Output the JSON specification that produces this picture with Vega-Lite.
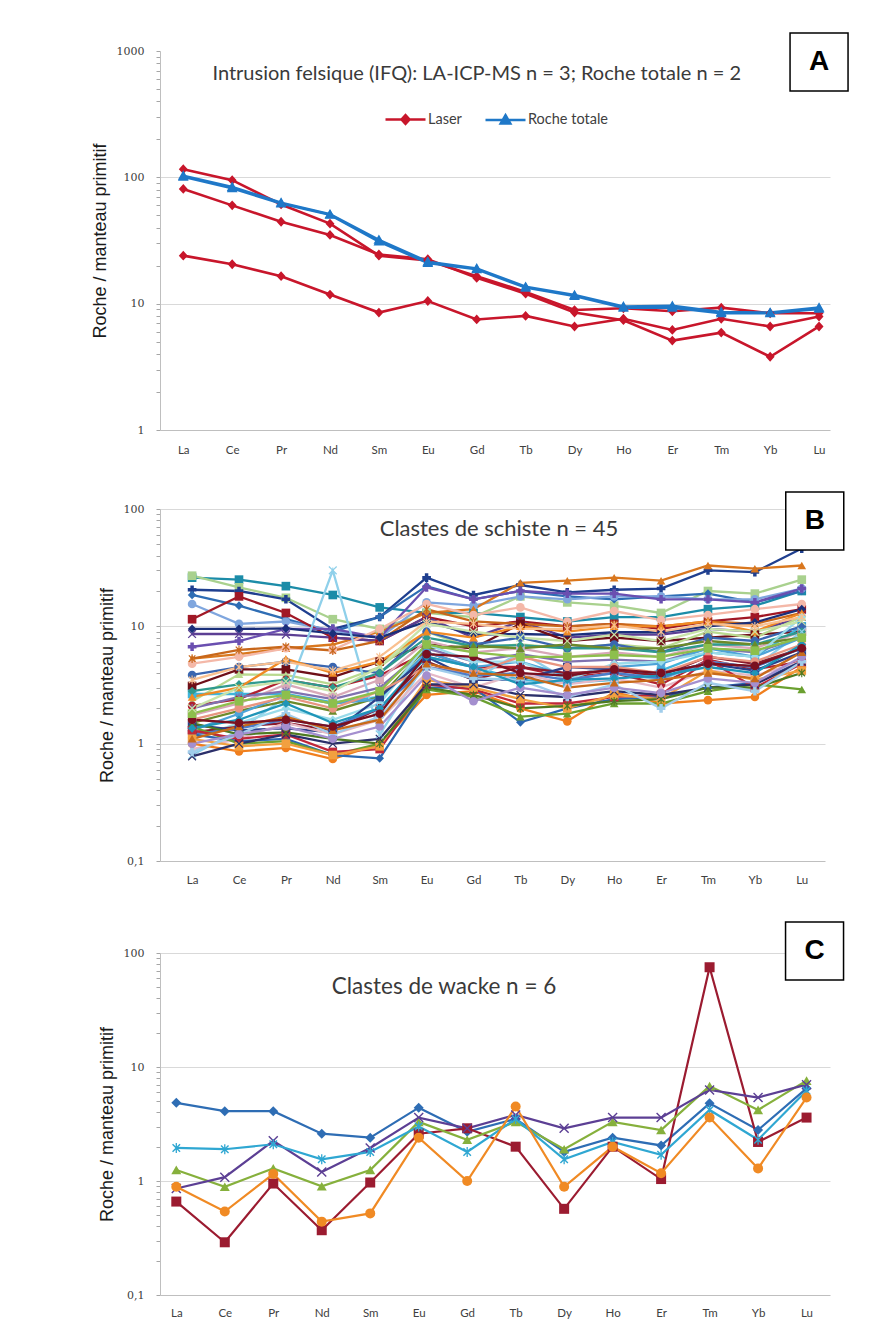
{
  "$schema": "https://vega.github.io/schema/vega-lite/v6.json",
  "background": "white",
  "padding": {"left": 91, "top": 30, "right": 10, "bottom": 10},
  "config": {"view": {"stroke": null}, "font": "Lato"},
  "datasets": {
    "a": [
      {"s": "L1", "t": "Laser", "La": 116, "Ce": 95, "Pr": 61, "Nd": 43, "Sm": 24, "Eu": 22, "Gd": 16.5, "Tb": 12.4, "Dy": 8.9, "Ho": 9.2, "Er": 8.7, "Tm": 9.3, "Yb": 8.4, "Lu": 8.4},
      {"s": "L2", "t": "Laser", "La": 81, "Ce": 60, "Pr": 44.5, "Nd": 35, "Sm": 24.5, "Eu": 22.5, "Gd": 16, "Tb": 12, "Dy": 8.5, "Ho": 7.4, "Er": 5.1, "Tm": 5.9, "Yb": 3.8, "Lu": 6.6},
      {"s": "L3", "t": "Laser", "La": 24, "Ce": 20.5, "Pr": 16.5, "Nd": 11.8, "Sm": 8.5, "Eu": 10.5, "Gd": 7.5, "Tb": 8, "Dy": 6.6, "Ho": 7.6, "Er": 6.2, "Tm": 7.6, "Yb": 6.6, "Lu": 7.9},
      {"s": "R1", "t": "Roche totale", "La": 101, "Ce": 82, "Pr": 62, "Nd": 50.5, "Sm": 31, "Eu": 21, "Gd": 18.7, "Tb": 13.4, "Dy": 11.5, "Ho": 9.3, "Er": 9.3, "Tm": 8.4, "Yb": 8.4, "Lu": 9.1},
      {"s": "R2", "t": "Roche totale", "La": 103, "Ce": 84, "Pr": 63, "Nd": 51, "Sm": 32, "Eu": 21.5, "Gd": 19, "Tb": 13.6, "Dy": 11.7, "Ho": 9.5, "Er": 9.6, "Tm": 8.6, "Yb": 8.5, "Lu": 9.3}
    ],
    "b": [
      {"s": "s01", "La": 26, "Ce": 25, "Pr": 22, "Nd": 18.5, "Sm": 14.5, "Eu": 13, "Gd": 13, "Tb": 12, "Dy": 11, "Ho": 12, "Er": 12, "Tm": 14, "Yb": 15, "Lu": 20},
      {"s": "s02", "La": 27, "Ce": 21.5, "Pr": 17.5, "Nd": 11.5, "Sm": 9.5, "Eu": 13, "Gd": 12, "Tb": 18, "Dy": 16, "Ho": 15, "Er": 13, "Tm": 20, "Yb": 19, "Lu": 25},
      {"s": "s03", "La": 20.5, "Ce": 20, "Pr": 17, "Nd": 9.5, "Sm": 12, "Eu": 26, "Gd": 18.5, "Tb": 22.5, "Dy": 19.5, "Ho": 20.5, "Er": 21, "Tm": 30, "Yb": 29, "Lu": 46},
      {"s": "s04", "La": 18.5, "Ce": 15, "Pr": 11.5, "Nd": 9, "Sm": 12, "Eu": 22, "Gd": 17, "Tb": 20, "Dy": 18, "Ho": 17, "Er": 18, "Tm": 19, "Yb": 16, "Lu": 20},
      {"s": "s05", "La": 15.5, "Ce": 10.5, "Pr": 11, "Nd": 9.2, "Sm": 8, "Eu": 16, "Gd": 15, "Tb": 18, "Dy": 17, "Ho": 18, "Er": 18, "Tm": 17, "Yb": 17, "Lu": 21},
      {"s": "s06", "La": 11.5, "Ce": 18, "Pr": 13, "Nd": 8, "Sm": 7.5, "Eu": 12, "Gd": 10, "Tb": 11, "Dy": 10, "Ho": 10.5, "Er": 9.5, "Tm": 11, "Yb": 12, "Lu": 14},
      {"s": "s07", "La": 5.3, "Ce": 5.8, "Pr": 6.5, "Nd": 7, "Sm": 9, "Eu": 13, "Gd": 14, "Tb": 23.5, "Dy": 24.5, "Ho": 26, "Er": 24.5, "Tm": 33, "Yb": 31, "Lu": 33},
      {"s": "s08", "La": 8.6, "Ce": 8.6, "Pr": 8.5, "Nd": 8, "Sm": 7.5, "Eu": 12, "Gd": 8, "Tb": 11, "Dy": 8, "Ho": 8.5, "Er": 8.5, "Tm": 9.5, "Yb": 9, "Lu": 12},
      {"s": "s09", "La": 6.7, "Ce": 7.5, "Pr": 9.5, "Nd": 9.5, "Sm": 8, "Eu": 21.5, "Gd": 17, "Tb": 20, "Dy": 19, "Ho": 19, "Er": 17, "Tm": 17, "Yb": 16, "Lu": 21},
      {"s": "s10", "La": 4.8, "Ce": 5.5, "Pr": 6.5, "Nd": 6.3, "Sm": 9.5, "Eu": 15.5, "Gd": 12.5, "Tb": 14.5, "Dy": 11, "Ho": 13.5, "Er": 11.3, "Tm": 12.5, "Yb": 14, "Lu": 15.5},
      {"s": "s11", "La": 5.3, "Ce": 6.3, "Pr": 6.7, "Nd": 6.2, "Sm": 7.5, "Eu": 14, "Gd": 11, "Tb": 10.5, "Dy": 10, "Ho": 10.5, "Er": 10, "Tm": 11, "Yb": 10.5, "Lu": 13},
      {"s": "s12", "La": 9.5, "Ce": 9.5, "Pr": 9.6, "Nd": 8.7, "Sm": 8, "Eu": 11, "Gd": 8.5, "Tb": 8.6, "Dy": 8.4, "Ho": 8.9, "Er": 8.9, "Tm": 10, "Yb": 10.8, "Lu": 14},
      {"s": "s13", "La": 3.1, "Ce": 4.3, "Pr": 4.3, "Nd": 3.7, "Sm": 5, "Eu": 7, "Gd": 6.5, "Tb": 10.5, "Dy": 7.5, "Ho": 8, "Er": 7.5, "Tm": 8, "Yb": 8.5, "Lu": 9},
      {"s": "s14", "La": 2.3, "Ce": 3.9, "Pr": 3.85, "Nd": 3.2, "Sm": 4.5, "Eu": 9, "Gd": 6.5, "Tb": 7, "Dy": 6.5, "Ho": 7, "Er": 6.5, "Tm": 9, "Yb": 8, "Lu": 12},
      {"s": "s15", "La": 2.65, "Ce": 2.65, "Pr": 2.65, "Nd": 2.25, "Sm": 2.5, "Eu": 5.5, "Gd": 4.5, "Tb": 3.5, "Dy": 3.3, "Ho": 3.5, "Er": 4.2, "Tm": 6, "Yb": 5.5, "Lu": 10},
      {"s": "s16", "La": 2.1, "Ce": 2.4, "Pr": 3.5, "Nd": 3, "Sm": 3.8, "Eu": 6, "Gd": 4.5, "Tb": 4.5, "Dy": 3.7, "Ho": 4, "Er": 3.2, "Tm": 5.2, "Yb": 4.3, "Lu": 5},
      {"s": "s17", "La": 1.75, "Ce": 2.2, "Pr": 3.2, "Nd": 2.5, "Sm": 3.5, "Eu": 7.5, "Gd": 6, "Tb": 6.5, "Dy": 5.5, "Ho": 6, "Er": 5.5, "Tm": 7, "Yb": 6.5, "Lu": 9},
      {"s": "s18", "La": 3.85, "Ce": 4.5, "Pr": 5, "Nd": 4.5, "Sm": 4, "Eu": 9, "Gd": 7, "Tb": 8, "Dy": 6.5, "Ho": 7, "Er": 6, "Tm": 8, "Yb": 7.5, "Lu": 10},
      {"s": "s19", "La": 2.8, "Ce": 3.2, "Pr": 3.5, "Nd": 3, "Sm": 4, "Eu": 8, "Gd": 6.8, "Tb": 6.9, "Dy": 6.5, "Ho": 6.5, "Er": 6, "Tm": 7, "Yb": 7, "Lu": 9},
      {"s": "s20", "La": 0.8, "Ce": 1.3, "Pr": 2.5, "Nd": 30, "Sm": 1.2, "Eu": 5, "Gd": 3.5, "Tb": 6, "Dy": 3.5, "Ho": 4, "Er": 3.5, "Tm": 5, "Yb": 4.5, "Lu": 9},
      {"s": "s21", "La": 2.5, "Ce": 3, "Pr": 5.3, "Nd": 4, "Sm": 5, "Eu": 9, "Gd": 8, "Tb": 10, "Dy": 9, "Ho": 10, "Er": 10, "Tm": 11, "Yb": 9, "Lu": 13},
      {"s": "s22", "La": 2, "Ce": 2.5, "Pr": 2.8, "Nd": 2.4, "Sm": 3, "Eu": 6.5, "Gd": 5, "Tb": 5.8, "Dy": 5, "Ho": 5.2, "Er": 5, "Tm": 6.5, "Yb": 6, "Lu": 8},
      {"s": "s23", "La": 1.5, "Ce": 1.9, "Pr": 2.3, "Nd": 1.9, "Sm": 2.5, "Eu": 6.5, "Gd": 6.8, "Tb": 6.5, "Dy": 7, "Ho": 6.5, "Er": 6.5, "Tm": 7.5, "Yb": 7, "Lu": 8},
      {"s": "s24", "La": 1.3, "Ce": 1.8, "Pr": 2.6, "Nd": 2.2, "Sm": 2.4, "Eu": 6, "Gd": 4.5, "Tb": 5, "Dy": 3.8, "Ho": 4.5, "Er": 4.8, "Tm": 6.5, "Yb": 5.5, "Lu": 8},
      {"s": "s25", "La": 1.1, "Ce": 1.5, "Pr": 2, "Nd": 1.6, "Sm": 2.2, "Eu": 7, "Gd": 5, "Tb": 5, "Dy": 3.5, "Ho": 4.8, "Er": 5, "Tm": 6, "Yb": 5.5, "Lu": 12},
      {"s": "s26", "La": 1.25, "Ce": 1.4, "Pr": 1.5, "Nd": 1.3, "Sm": 2, "Eu": 5, "Gd": 3.5, "Tb": 4.5, "Dy": 4, "Ho": 4.2, "Er": 3.8, "Tm": 5.5, "Yb": 4.8, "Lu": 6.5},
      {"s": "s27", "La": 1.45, "Ce": 1.3, "Pr": 1.35, "Nd": 1.25, "Sm": 2.5, "Eu": 5.5, "Gd": 3.5, "Tb": 3.5, "Dy": 4.5, "Ho": 4.3, "Er": 4, "Tm": 4.8, "Yb": 4.2, "Lu": 6},
      {"s": "s28", "La": 1.6, "Ce": 2, "Pr": 2.5, "Nd": 2, "Sm": 2.8, "Eu": 4.5, "Gd": 4, "Tb": 5.5, "Dy": 4.5, "Ho": 4.5, "Er": 4, "Tm": 5.5, "Yb": 5, "Lu": 7},
      {"s": "s29", "La": 1.2, "Ce": 1.35, "Pr": 1.6, "Nd": 1.4, "Sm": 2, "Eu": 4.5, "Gd": 3.8, "Tb": 4, "Dy": 3.5, "Ho": 4, "Er": 3.6, "Tm": 5, "Yb": 4.5, "Lu": 6.5},
      {"s": "s30", "La": 0.9, "Ce": 1.1, "Pr": 1.5, "Nd": 1.2, "Sm": 1.6, "Eu": 4, "Gd": 3, "Tb": 4, "Dy": 3.2, "Ho": 3.6, "Er": 3, "Tm": 4.2, "Yb": 3.8, "Lu": 5},
      {"s": "s31", "La": 1.0, "Ce": 0.86, "Pr": 0.92, "Nd": 0.74, "Sm": 1.0, "Eu": 2.6, "Gd": 2.8, "Tb": 2.0, "Dy": 1.55, "Ho": 2.75, "Er": 2.2, "Tm": 2.35, "Yb": 2.5, "Lu": 4.5},
      {"s": "s32", "La": 1.2, "Ce": 1.05, "Pr": 1.1, "Nd": 0.8, "Sm": 0.75, "Eu": 3, "Gd": 3, "Tb": 1.52, "Dy": 2, "Ho": 2.4, "Er": 2.5, "Tm": 3, "Yb": 3.3, "Lu": 5},
      {"s": "s33", "La": 1.4, "Ce": 1.0, "Pr": 1.05, "Nd": 0.8, "Sm": 1.0, "Eu": 2.9, "Gd": 2.5, "Tb": 1.7, "Dy": 1.8, "Ho": 2.2, "Er": 2.2, "Tm": 2.8, "Yb": 3.2, "Lu": 2.9},
      {"s": "s34", "La": 1.3, "Ce": 1.1, "Pr": 1.2, "Nd": 0.85, "Sm": 0.9, "Eu": 3.2, "Gd": 2.9, "Tb": 2.2, "Dy": 2.2, "Ho": 2.5, "Er": 2.6, "Tm": 5.2, "Yb": 3, "Lu": 4.8},
      {"s": "s35", "La": 1.1, "Ce": 0.95, "Pr": 1.0, "Nd": 0.8, "Sm": 0.95, "Eu": 3.5, "Gd": 3, "Tb": 2.4, "Dy": 2.0, "Ho": 2.6, "Er": 2.4, "Tm": 4.2, "Yb": 3.5, "Lu": 4.2},
      {"s": "s36", "La": 0.78, "Ce": 1.0, "Pr": 1.2, "Nd": 1.0, "Sm": 1.1, "Eu": 3.2, "Gd": 3.2, "Tb": 2.6, "Dy": 2.5, "Ho": 2.8, "Er": 2.6, "Tm": 3, "Yb": 3.2, "Lu": 5},
      {"s": "s37", "La": 1.5, "Ce": 1.2, "Pr": 1.25, "Nd": 1.1, "Sm": 1.0, "Eu": 3.0, "Gd": 2.6, "Tb": 2.0, "Dy": 2.1, "Ho": 2.3, "Er": 2.4, "Tm": 3.0, "Yb": 3.0, "Lu": 4.0},
      {"s": "s38", "La": 0.85, "Ce": 1.2, "Pr": 1.8, "Nd": 1.2, "Sm": 1.7, "Eu": 4.5, "Gd": 3.6, "Tb": 3.5, "Dy": 2.5, "Ho": 3.2, "Er": 2.0, "Tm": 3.3, "Yb": 2.8, "Lu": 5},
      {"s": "s39", "La": 1.0, "Ce": 1.2, "Pr": 1.4, "Nd": 1.1, "Sm": 1.4, "Eu": 3.8, "Gd": 2.3, "Tb": 3, "Dy": 2.6, "Ho": 3, "Er": 2.7, "Tm": 3.6, "Yb": 3.3, "Lu": 5.5},
      {"s": "s40", "La": 1.35, "Ce": 1.6, "Pr": 2.2, "Nd": 1.5, "Sm": 2.0, "Eu": 5.5, "Gd": 4.5, "Tb": 3.2, "Dy": 3.5, "Ho": 3.6, "Er": 3.8, "Tm": 4.5, "Yb": 4.0, "Lu": 7},
      {"s": "s41", "La": 1.1, "Ce": 1.4, "Pr": 1.7, "Nd": 1.3, "Sm": 1.6, "Eu": 4.8, "Gd": 4.0, "Tb": 3.8, "Dy": 3.0, "Ho": 3.3, "Er": 3.5, "Tm": 4.0, "Yb": 3.6, "Lu": 6},
      {"s": "s42", "La": 1.6, "Ce": 1.5, "Pr": 1.6, "Nd": 1.4, "Sm": 1.8, "Eu": 5.8, "Gd": 5.5, "Tb": 4.0, "Dy": 3.8, "Ho": 4.3, "Er": 4.0, "Tm": 4.8, "Yb": 4.6, "Lu": 6.5},
      {"s": "s43", "La": 1.8, "Ce": 2.3, "Pr": 2.6, "Nd": 2.2, "Sm": 2.8, "Eu": 7, "Gd": 6, "Tb": 5.5, "Dy": 5.5, "Ho": 5.7, "Er": 5.5, "Tm": 6.5, "Yb": 6.2, "Lu": 8},
      {"s": "s44", "La": 2.0, "Ce": 3.0, "Pr": 3.4, "Nd": 2.8, "Sm": 4.5, "Eu": 10.5, "Gd": 9, "Tb": 8, "Dy": 7.5, "Ho": 8.5, "Er": 7.5, "Tm": 9.5, "Yb": 9, "Lu": 11},
      {"s": "s45", "La": 3.5, "Ce": 4.5, "Pr": 5.0, "Nd": 4.2, "Sm": 5.5, "Eu": 11, "Gd": 10.5, "Tb": 9.5, "Dy": 9.5, "Ho": 10.2, "Er": 9, "Tm": 10.5, "Yb": 10, "Lu": 12}
    ],
    "c": [
      {"s": "c1", "La": 4.85, "Ce": 4.1, "Pr": 4.1, "Nd": 2.6, "Sm": 2.4, "Eu": 4.4, "Gd": 2.7, "Tb": 3.5, "Dy": 1.8, "Ho": 2.4, "Er": 2.05, "Tm": 4.8, "Yb": 2.8, "Lu": 6.5},
      {"s": "c2", "La": 0.66, "Ce": 0.29, "Pr": 0.95, "Nd": 0.37, "Sm": 0.97, "Eu": 2.6, "Gd": 2.9, "Tb": 2.0, "Dy": 0.57, "Ho": 2.0, "Er": 1.04, "Tm": 75, "Yb": 2.2, "Lu": 3.6},
      {"s": "c3", "La": 1.25, "Ce": 0.89, "Pr": 1.29, "Nd": 0.9, "Sm": 1.25, "Eu": 3.3, "Gd": 2.3, "Tb": 3.3, "Dy": 1.9, "Ho": 3.3, "Er": 2.8, "Tm": 6.8, "Yb": 4.2, "Lu": 7.6},
      {"s": "c4", "La": 0.86, "Ce": 1.08, "Pr": 2.25, "Nd": 1.2, "Sm": 1.95, "Eu": 3.6, "Gd": 2.9, "Tb": 3.8, "Dy": 2.9, "Ho": 3.6, "Er": 3.6, "Tm": 6.3, "Yb": 5.4, "Lu": 7.0},
      {"s": "c5", "La": 1.95, "Ce": 1.9, "Pr": 2.1, "Nd": 1.55, "Sm": 1.8, "Eu": 3.0, "Gd": 1.8, "Tb": 3.5, "Dy": 1.55, "Ho": 2.2, "Er": 1.7, "Tm": 4.2, "Yb": 2.3, "Lu": 6.2},
      {"s": "c6", "La": 0.89, "Ce": 0.54, "Pr": 1.15, "Nd": 0.44, "Sm": 0.52, "Eu": 2.4, "Gd": 1.0, "Tb": 4.5, "Dy": 0.89, "Ho": 2.0, "Er": 1.17, "Tm": 3.6, "Yb": 1.29, "Lu": 5.4}
    ]
  },
  "spacing": 33,
  "resolve": {"scale": {"x": "independent", "y": "independent", "color": "independent", "shape": "independent"}},
  "vconcat": [
    {
      "width": 670,
      "height": 379,
      "layer": [
        {
          "data": {"name": "a"},
          "transform": [{"fold": ["La", "Ce", "Pr", "Nd", "Sm", "Eu", "Gd", "Tb", "Dy", "Ho", "Er", "Tm", "Yb", "Lu"], "as": ["el", "v"]}],
          "mark": {"type": "line", "strokeWidth": 2.6},
          "encoding": {
            "x": {"field": "el", "type": "ordinal", "scale": {"type": "point", "domain": ["La", "Ce", "Pr", "Nd", "Sm", "Eu", "Gd", "Tb", "Dy", "Ho", "Er", "Tm", "Yb", "Lu"], "padding": 0.35, "align": 0.68},
              "axis": {"title": null, "labelAngle": 0, "labelFont": "Lato", "labelFontSize": 11.5, "labelColor": "#404040", "labelPadding": 14, "ticks": false, "domainColor": "#BFBFBF", "grid": false}},
            "y": {"field": "v", "type": "quantitative", "scale": {"type": "log", "domain": [1, 1000], "nice": false},
              "axis": {"title": "Roche / manteau primitif", "titleFont": "Liberation Sans", "titleFontSize": 18, "titleFontWeight": "normal", "titleColor": "#1a1a1a", "titlePadding": 7,
                "values": [1, 2, 3, 4, 5, 6, 7, 8, 9, 10, 20, 30, 40, 50, 60, 70, 80, 90, 100, 200, 300, 400, 500, 600, 700, 800, 900, 1000],
                "labelExpr": "indexof([1,10,100,1000], datum.value) >= 0 ? '' + datum.value : ''",
                "labelFont": "DejaVu Serif", "labelFontSize": 11, "labelColor": "#404040", "labelPadding": 12, "labelOverlap": false,
                "tickSize": 4, "tickColor": "#A6A6A6", "domainColor": "#BFBFBF",
                "grid": true, "gridColor": "#D9D9D9", "gridOpacity": {"condition": {"test": "indexof([10,100], datum.value) >= 0", "value": 1}, "value": 0}}},
            "color": {"field": "t", "type": "nominal", "scale": {"domain": ["Laser", "Roche totale"], "range": ["#C8162B", "#1F78C8"]},
              "legend": {"orient": "none", "legendX": 224, "legendY": 47, "direction": "horizontal", "title": null, "symbolSize": 1600, "symbolStrokeWidth": 2.5, "labelFont": "Lato", "labelFontSize": 14.5, "labelColor": "#404040", "labelOffset": 1, "columnPadding": 18}},
            "detail": {"field": "s", "type": "nominal"}
          }
        },
        {
          "data": {"name": "a"},
          "transform": [{"fold": ["La", "Ce", "Pr", "Nd", "Sm", "Eu", "Gd", "Tb", "Dy", "Ho", "Er", "Tm", "Yb", "Lu"], "as": ["el", "v"]}],
          "mark": {"type": "point", "filled": true, "opacity": 1, "size": 2000},
          "encoding": {
            "x": {"field": "el", "type": "ordinal"},
            "y": {"field": "v", "type": "quantitative"},
            "color": {"field": "t", "type": "nominal"},
            "shape": {"field": "t", "type": "nominal", "scale": {"domain": ["Laser", "Roche totale"], "range": ["M-1,0L1,0M0,-0.22L0.2,0L0,0.22L-0.2,0Z", "M-1,0L1,0M0,-0.24L0.24,0.18L-0.24,0.18Z"]},
              "legend": {"orient": "none", "legendX": 224, "legendY": 47, "direction": "horizontal", "title": null, "symbolSize": 1600, "symbolStrokeWidth": 2.5, "labelFont": "Lato", "labelFontSize": 14.5, "labelColor": "#404040", "labelOffset": 1, "columnPadding": 18}},
            "detail": {"field": "s", "type": "nominal"}
          }
        },
        {
          "data": {"values": [{}]},
          "mark": {"type": "point", "shape": "square", "size": 3364, "filled": true, "fill": "white", "stroke": "black", "strokeWidth": 1.5, "opacity": 1},
          "encoding": {"x": {"datum": "Lu", "type": "ordinal"}, "y": {"datum": 818, "type": "quantitative"}}
        },
        {
          "data": {"values": [{}]},
          "mark": {"type": "text", "text": "A", "font": "Liberation Sans", "fontWeight": "bold", "fontSize": 28, "align": "center", "baseline": "middle", "color": "black"},
          "encoding": {"x": {"datum": "Lu", "type": "ordinal"}, "y": {"datum": 818, "type": "quantitative"}}
        },
        {
          "data": {"values": [{}]},
          "mark": {"type": "text", "text": "Intrusion felsique (IFQ): LA-ICP-MS n = 3; Roche totale n = 2", "font": "Lato", "fontSize": 20, "align": "center", "baseline": "middle", "color": "#3a3a3a"},
          "encoding": {"x": {"datum": "Gd", "type": "ordinal"}, "y": {"datum": 657, "type": "quantitative"}}
        }
      ]
    },
    {
      "width": 665,
      "height": 352,
      "layer": [
        {
          "data": {"name": "b"},
          "transform": [{"fold": ["La", "Ce", "Pr", "Nd", "Sm", "Eu", "Gd", "Tb", "Dy", "Ho", "Er", "Tm", "Yb", "Lu"], "as": ["el", "v"]}],
          "mark": {"type": "line", "strokeWidth": 2.3},
          "encoding": {
            "x": {"field": "el", "type": "ordinal", "scale": {"type": "point", "domain": ["La", "Ce", "Pr", "Nd", "Sm", "Eu", "Gd", "Tb", "Dy", "Ho", "Er", "Tm", "Yb", "Lu"], "padding": 0.59, "align": 0.58},
              "axis": {"title": null, "labelAngle": 0, "labelFont": "Lato", "labelFontSize": 11.5, "labelColor": "#404040", "labelPadding": 13, "ticks": false, "domainColor": "#BFBFBF", "grid": false}},
            "y": {"field": "v", "type": "quantitative", "scale": {"type": "log", "domain": [0.1, 100], "nice": false},
              "axis": {"title": "Roche / manteau primitif", "titleFont": "Liberation Sans", "titleFontSize": 18, "titleFontWeight": "normal", "titleColor": "#1a1a1a", "titlePadding": 7,
                "values": [0.1, 0.2, 0.3, 0.4, 0.5, 0.6, 0.7, 0.8, 0.9, 1, 2, 3, 4, 5, 6, 7, 8, 9, 10, 20, 30, 40, 50, 60, 70, 80, 90, 100],
                "labelExpr": "datum.value == 0.1 ? '0,1' : (indexof([1,10,100], datum.value) >= 0 ? '' + datum.value : '')",
                "labelFont": "DejaVu Serif", "labelFontSize": 11, "labelColor": "#404040", "labelPadding": 12, "labelOverlap": false,
                "tickSize": 4, "tickColor": "#A6A6A6", "domainColor": "#BFBFBF",
                "grid": true, "gridColor": "#D9D9D9", "gridOpacity": {"condition": {"test": "indexof([1,10,100], datum.value) >= 0", "value": 1}, "value": 0}}},
            "color": {"field": "s", "type": "nominal", "legend": null,
              "scale": {"range": ["#1C8CA8", "#A9D18E", "#1F3F8F", "#2E6DB4", "#7FA6DE", "#A01826", "#D9771E", "#5C3F94", "#6A4FB0", "#F4B8A8", "#C8671A", "#1A2F7A", "#6E0F18", "#B9D98F", "#3FB4DA", "#B02030", "#D8A8B8", "#3A66B0", "#2E9A8E", "#8FD0EA", "#F08A24", "#8072B0", "#6C8A2A", "#4DA3D8", "#9ADBEA", "#8B1A2B", "#2A3F8A", "#E89580", "#4C7CC8", "#E6B9C6", "#F07F1E", "#2A66B0", "#6BA030", "#C0283A", "#F2A040", "#2B2F6A", "#4E7A22", "#A0CDEB", "#A48FCF", "#1F95B8", "#C86A1A", "#7A1020", "#8DBF4C", "#C8E3A8", "#F9C090"]}}
          }
        },
        {
          "data": {"name": "b"},
          "transform": [{"fold": ["La", "Ce", "Pr", "Nd", "Sm", "Eu", "Gd", "Tb", "Dy", "Ho", "Er", "Tm", "Yb", "Lu"], "as": ["el", "v"]}],
          "mark": {"type": "point", "filled": true, "opacity": 1, "size": 75},
          "encoding": {
            "x": {"field": "el", "type": "ordinal"},
            "y": {"field": "v", "type": "quantitative"},
            "color": {"field": "s", "type": "nominal", "legend": null},
            "shape": {"field": "s", "type": "nominal", "legend": null,
              "scale": {"range": ["square", "square", "cross", "diamond", "circle", "square", "triangle-up",
                "M-1,-0.8L-0.8,-1L0,-0.2L0.8,-1L1,-0.8L0.2,0L1,0.8L0.8,1L0,0.2L-0.8,1L-1,0.8L-0.2,0Z",
                "cross", "circle",
                "M-0.85,-0.65L-0.65,-0.85L0,-0.2L0.65,-0.85L0.85,-0.65L0.2,0L0.85,0.65L0.65,0.85L0,0.2L-0.65,0.85L-0.85,0.65L-0.2,0ZM-0.13,-1L0.13,-1L0.13,1L-0.13,1Z",
                "diamond", "square", "triangle-up", "square", "circle", "square", "circle", "diamond",
                "M-1,-0.8L-0.8,-1L0,-0.2L0.8,-1L1,-0.8L0.2,0L1,0.8L0.8,1L0,0.2L-0.8,1L-1,0.8L-0.2,0Z",
                "triangle-up",
                "M-0.85,-0.65L-0.65,-0.85L0,-0.2L0.65,-0.85L0.85,-0.65L0.2,0L0.85,0.65L0.65,0.85L0,0.2L-0.65,0.85L-0.85,0.65L-0.2,0ZM-0.13,-1L0.13,-1L0.13,1L-0.13,1Z",
                "triangle-up", "circle", "diamond", "cross", "square", "circle",
                "M-1,-0.8L-0.8,-1L0,-0.2L0.8,-1L1,-0.8L0.2,0L1,0.8L0.8,1L0,0.2L-0.8,1L-1,0.8L-0.2,0Z",
                "triangle-up", "circle", "diamond", "triangle-up", "square", "square",
                "M-1,-0.8L-0.8,-1L0,-0.2L0.8,-1L1,-0.8L0.2,0L1,0.8L0.8,1L0,0.2L-0.8,1L-1,0.8L-0.2,0Z",
                "M-0.85,-0.65L-0.65,-0.85L0,-0.2L0.65,-0.85L0.85,-0.65L0.2,0L0.85,0.65L0.65,0.85L0,0.2L-0.65,0.85L-0.85,0.65L-0.2,0ZM-0.13,-1L0.13,-1L0.13,1L-0.13,1Z",
                "cross", "circle", "diamond", "triangle-up", "circle", "square",
                "M-1,-0.8L-0.8,-1L0,-0.2L0.8,-1L1,-0.8L0.2,0L1,0.8L0.8,1L0,0.2L-0.8,1L-1,0.8L-0.2,0Z",
                "M-0.85,-0.65L-0.65,-0.85L0,-0.2L0.65,-0.85L0.85,-0.65L0.2,0L0.85,0.65L0.65,0.85L0,0.2L-0.65,0.85L-0.85,0.65L-0.2,0ZM-0.13,-1L0.13,-1L0.13,1L-0.13,1Z"]}}
          }
        },
        {
          "data": {"values": [{}]},
          "mark": {"type": "point", "shape": "square", "size": 3364, "filled": true, "fill": "white", "stroke": "black", "strokeWidth": 1.5, "opacity": 1, "xOffset": 13},
          "encoding": {"x": {"datum": "Lu", "type": "ordinal"}, "y": {"datum": 79, "type": "quantitative"}}
        },
        {
          "data": {"values": [{}]},
          "mark": {"type": "text", "text": "B", "font": "Liberation Sans", "fontWeight": "bold", "fontSize": 28, "align": "center", "baseline": "middle", "color": "black", "xOffset": 13},
          "encoding": {"x": {"datum": "Lu", "type": "ordinal"}, "y": {"datum": 79, "type": "quantitative"}}
        },
        {
          "data": {"values": [{}]},
          "mark": {"type": "text", "text": "Clastes de schiste n = 45", "font": "Lato", "fontSize": 22, "align": "left", "baseline": "middle", "color": "#3a3a3a"},
          "encoding": {"x": {"datum": "Sm", "type": "ordinal"}, "y": {"datum": 67, "type": "quantitative"}}
        }
      ]
    },
    {
      "width": 670,
      "height": 342,
      "layer": [
        {
          "data": {"name": "c"},
          "transform": [{"fold": ["La", "Ce", "Pr", "Nd", "Sm", "Eu", "Gd", "Tb", "Dy", "Ho", "Er", "Tm", "Yb", "Lu"], "as": ["el", "v"]}],
          "mark": {"type": "line", "strokeWidth": 2.2},
          "encoding": {
            "x": {"field": "el", "type": "ordinal", "scale": {"type": "point", "domain": ["La", "Ce", "Pr", "Nd", "Sm", "Eu", "Gd", "Tb", "Dy", "Ho", "Er", "Tm", "Yb", "Lu"], "padding": 0.41, "align": 0.41},
              "axis": {"title": null, "labelAngle": 0, "labelFont": "Lato", "labelFontSize": 11.5, "labelColor": "#404040", "labelPadding": 12, "ticks": false, "domainColor": "#BFBFBF", "grid": false}},
            "y": {"field": "v", "type": "quantitative", "scale": {"type": "log", "domain": [0.1, 100], "nice": false},
              "axis": {"title": "Roche / manteau primitif", "titleFont": "Liberation Sans", "titleFontSize": 18, "titleFontWeight": "normal", "titleColor": "#1a1a1a", "titlePadding": 7,
                "values": [0.1, 0.2, 0.3, 0.4, 0.5, 0.6, 0.7, 0.8, 0.9, 1, 2, 3, 4, 5, 6, 7, 8, 9, 10, 20, 30, 40, 50, 60, 70, 80, 90, 100],
                "labelExpr": "datum.value == 0.1 ? '0,1' : (indexof([1,10,100], datum.value) >= 0 ? '' + datum.value : '')",
                "labelFont": "DejaVu Serif", "labelFontSize": 11, "labelColor": "#404040", "labelPadding": 12, "labelOverlap": false,
                "tickSize": 4, "tickColor": "#A6A6A6", "domainColor": "#BFBFBF",
                "grid": true, "gridColor": "#D9D9D9", "gridOpacity": {"condition": {"test": "indexof([1,10,100], datum.value) >= 0", "value": 1}, "value": 0}}},
            "color": {"field": "s", "type": "nominal", "legend": null,
              "scale": {"domain": ["c1", "c2", "c3", "c4", "c5", "c6"], "range": ["#2E6DB4", "#9B1B30", "#86B03C", "#5C3F94", "#2FA7D2", "#F08A24"]}}
          }
        },
        {
          "data": {"name": "c"},
          "transform": [{"fold": ["La", "Ce", "Pr", "Nd", "Sm", "Eu", "Gd", "Tb", "Dy", "Ho", "Er", "Tm", "Yb", "Lu"], "as": ["el", "v"]}],
          "mark": {"type": "point", "filled": true, "opacity": 1, "size": 100},
          "encoding": {
            "x": {"field": "el", "type": "ordinal"},
            "y": {"field": "v", "type": "quantitative"},
            "color": {"field": "s", "type": "nominal", "legend": null},
            "shape": {"field": "s", "type": "nominal", "legend": null,
              "scale": {"domain": ["c1", "c2", "c3", "c4", "c5", "c6"], "range": ["diamond", "square", "triangle-up",
                "M-1,-0.8L-0.8,-1L0,-0.2L0.8,-1L1,-0.8L0.2,0L1,0.8L0.8,1L0,0.2L-0.8,1L-1,0.8L-0.2,0Z",
                "M-0.85,-0.65L-0.65,-0.85L0,-0.2L0.65,-0.85L0.85,-0.65L0.2,0L0.85,0.65L0.65,0.85L0,0.2L-0.65,0.85L-0.85,0.65L-0.2,0ZM-0.13,-1L0.13,-1L0.13,1L-0.13,1Z",
                "circle"]}}
          }
        },
        {
          "data": {"values": [{}]},
          "mark": {"type": "point", "shape": "square", "size": 3364, "filled": true, "fill": "white", "stroke": "black", "strokeWidth": 1.5, "opacity": 1, "xOffset": 8},
          "encoding": {"x": {"datum": "Lu", "type": "ordinal"}, "y": {"datum": 104, "type": "quantitative"}}
        },
        {
          "data": {"values": [{}]},
          "mark": {"type": "text", "text": "C", "font": "Liberation Sans", "fontWeight": "bold", "fontSize": 28, "align": "center", "baseline": "middle", "color": "black", "xOffset": 8},
          "encoding": {"x": {"datum": "Lu", "type": "ordinal"}, "y": {"datum": 104, "type": "quantitative"}}
        },
        {
          "data": {"values": [{}]},
          "mark": {"type": "text", "text": "Clastes de wacke n = 6", "font": "Lato", "fontSize": 22.5, "align": "left", "baseline": "middle", "color": "#3a3a3a", "dx": 10},
          "encoding": {"x": {"datum": "Nd", "type": "ordinal"}, "y": {"datum": 50, "type": "quantitative"}}
        }
      ]
    }
  ]
}
